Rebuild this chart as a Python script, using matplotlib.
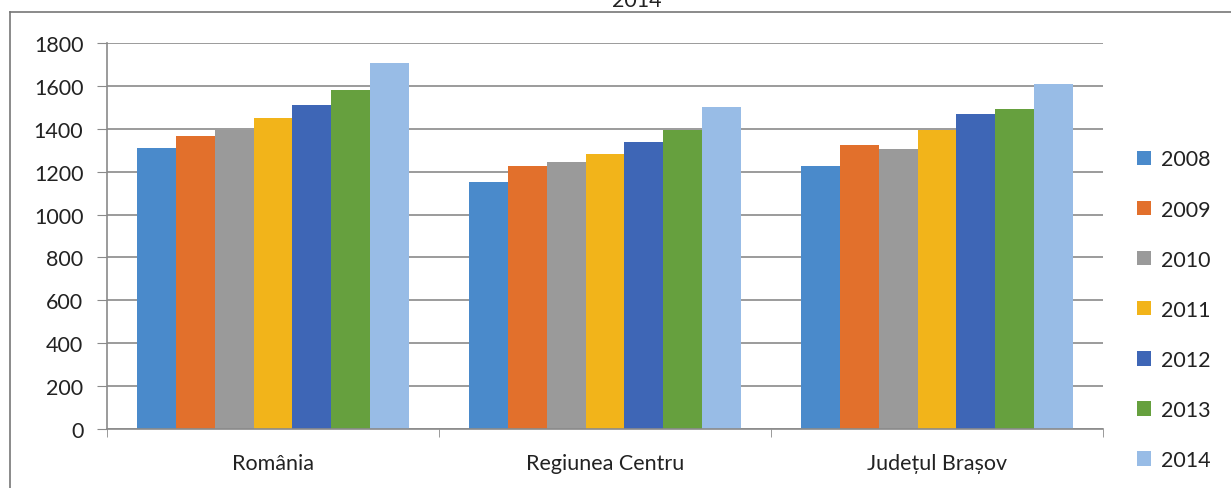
import matplotlib
matplotlib.use("Agg")
import matplotlib.pyplot as plt
import numpy as np

categories = ["România", "Regiunea Centru", "Județul Brașov"]
years = ["2008", "2009", "2010", "2011", "2012", "2013", "2014"]
v2008 = [1310, 1152, 1227]
v2009 = [1365, 1227, 1325]
v2010 = [1395, 1245, 1306]
v2011 = [1450, 1283, 1395]
v2012 = [1510, 1339, 1469]
v2013 = [1580, 1395, 1493]
v2014 = [1705, 1502, 1609]
series = [v2008, v2009, v2010, v2011, v2012, v2013, v2014]
colors = ["#4A8ACB", "#E2702C", "#9A9A9A", "#F2B41A", "#3E66B6", "#66A03E", "#98BCE6"]
yticks = [0, 200, 400, 600, 800, 1000, 1200, 1400, 1600, 1800]

plt.rcParams['font.family'] = ['Lato', 'DejaVu Sans']
FS = 15.5
fig = plt.figure(figsize=(12.31, 4.89), dpi=100)
ax = fig.add_axes([107/1231, 1-430/489, 996/1231, 386/489])

n = len(series)
bw = 0.117
x = np.arange(len(categories))
for i, (s, c, y) in enumerate(zip(series, colors, years)):
    ax.bar(x + (i - (n-1)/2) * bw, s, width=bw, color=c, label=y, linewidth=0)

ax.set_xlim(-0.5, len(categories) - 0.5)
ax.set_ylim(0, 1800)
ax.set_yticks(yticks)
ax.set_yticklabels([str(t) for t in yticks], fontsize=FS, color="#222222")
ax.yaxis.grid(True, color="#8a8a8a", linewidth=1.2)
ax.set_axisbelow(True)
ax.set_xticks(x)
ax.set_xticklabels(categories, fontsize=FS, color="#222222")
ax.set_xticks(np.arange(len(categories) + 1) - 0.5, minor=True)
ax.tick_params(axis='x', which='major', length=0, pad=17)
ax.tick_params(axis='x', which='minor', length=6, color="#8a8a8a", direction='out')
ax.tick_params(axis='y', length=7, color="#8a8a8a", pad=10, direction='out')
for sp in ["top", "right"]:
    ax.spines[sp].set_visible(False)
for sp in ["left", "bottom"]:
    ax.spines[sp].set_color("#8a8a8a")
    ax.spines[sp].set_linewidth(1.2)

leg = fig.legend(loc='upper left', bbox_to_anchor=(1118/1231, 1-131/489), frameon=False,
                 fontsize=FS, handlelength=0.65, handleheight=0.65, handletextpad=0.45,
                 labelspacing=1.4)
for t in leg.get_texts():
    t.set_color("#222222")

# outer border lines and cut-off title
fig.add_artist(plt.Line2D([10/1231, 1], [1-13/489, 1-13/489], color="#777777", linewidth=1.2))
fig.add_artist(plt.Line2D([10/1231, 10/1231], [0, 1-13/489], color="#777777", linewidth=1.2))
fig.text(637/1231, 1-1/489, "2014", ha='center', va='center', fontsize=FS, color="#222222")

fig.savefig("out.png", dpi=100)
